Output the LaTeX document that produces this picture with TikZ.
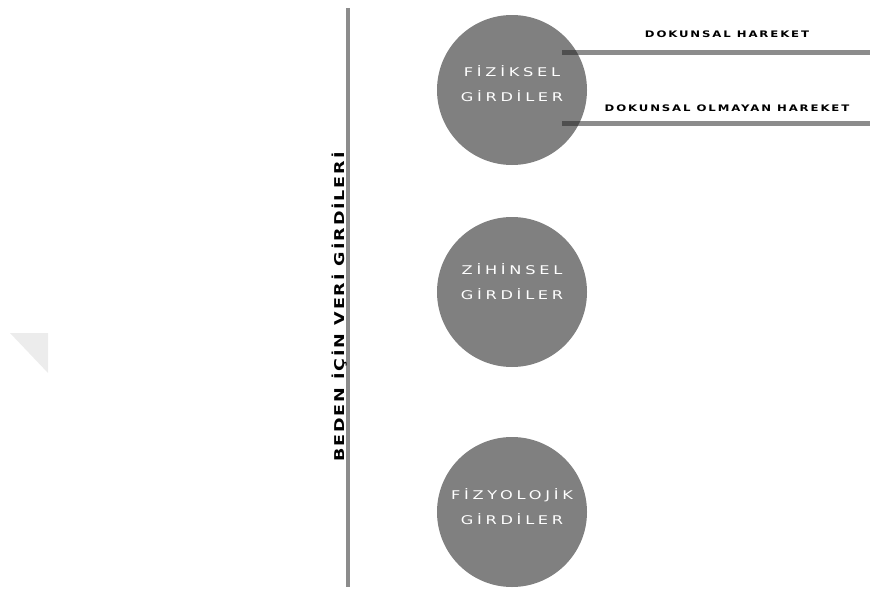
\documentclass[tikz,border=0pt]{standalone}
\usepackage{fontspec}
\setmainfont{DejaVu Sans}
\usetikzlibrary{positioning}
\definecolor{grey500}{HTML}{808080}
\definecolor{grey400}{HTML}{8C8C8C}
\definecolor{grey700}{HTML}{4F4F4F}
\definecolor{grey100}{HTML}{ECECEC}
\newfontfamily\wideface[LetterSpace=31,FakeStretch=1.35]{DejaVu Sans}
\newfontfamily\widebold[LetterSpace=21,FakeStretch=1.3]{DejaVu Sans Bold}
\newfontfamily\titleface[LetterSpace=14,FakeStretch=1.3]{DejaVu Sans Bold}
\tikzset{
  girdi/.style ={circle, fill=grey500, minimum size=150pt, inner sep=0pt},
  girdiyazi/.style={align=center, text=white, inner sep=0pt,
                 font=\wideface\fontsize{12}{25}\selectfont},
  hareket/.style={font=\widebold\fontsize{9}{10}\selectfont, inner sep=1pt},
  bar/.style   ={draw=grey400, line width=5pt},
  bardark/.style={draw=grey700, line width=5pt},
  axis/.style  ={draw=grey400, line width=4pt}
}
\begin{document}
\begin{tikzpicture}[x=1pt,y=-1pt]
\useasboundingbox (0,0) rectangle (870,589);
% main axis with its title
\coordinate (axtop) at (348,8);
\coordinate (axbot) at (348,587);
\draw[axis] (axtop) -- (axbot);
\node[rotate=90, font=\titleface\fontsize{13.5}{15}\selectfont] (title) at (340,307)
  {BEDEN İÇİN VERİ GİRDİLERİ};

\node[girdi] (fiz) at (512,90)  {};
\node[girdi] (zih) at (512,292) {};
\node[girdi] (fzy) at (512,512) {};
\node[girdiyazi] (fiztxt) at ([yshift=6pt]fiz.center) {FİZİKSEL\\GİRDİLER};
\node[girdiyazi] (zihtxt) at ([yshift=10pt]zih.center) {ZİHİNSEL\\GİRDİLER};
\node[girdiyazi] (fzytxt) at ([yshift=5pt]fzy.center) {FİZYOLOJİK\\GİRDİLER};

\coordinate (dok1) at (562,52);
\coordinate (dok1e) at (870,52);
\coordinate (dok2) at (562,123.5);
\coordinate (dok2e) at (870,123.5);
\draw[bar] (dok1) -- (dok1e);
\draw[bar] (dok2) -- (dok2e);
% darker where the bars lie on the circle
\begin{scope}
  \clip (fiz.center) circle (75);
  \draw[bardark] (dok1) -- (dok1e);
  \draw[bardark] (dok2) -- (dok2e);
\end{scope}
\node[hareket] (lab1) at (727,34)  {DOKUNSAL HAREKET};
\node[hareket] (lab2) at (727,108) {DOKUNSAL OLMAYAN HAREKET};

% pale corner mark on the left
\fill[grey100] (10,333) -- (48,333) -- (48,373) -- cycle;
\end{tikzpicture}
\end{document}
